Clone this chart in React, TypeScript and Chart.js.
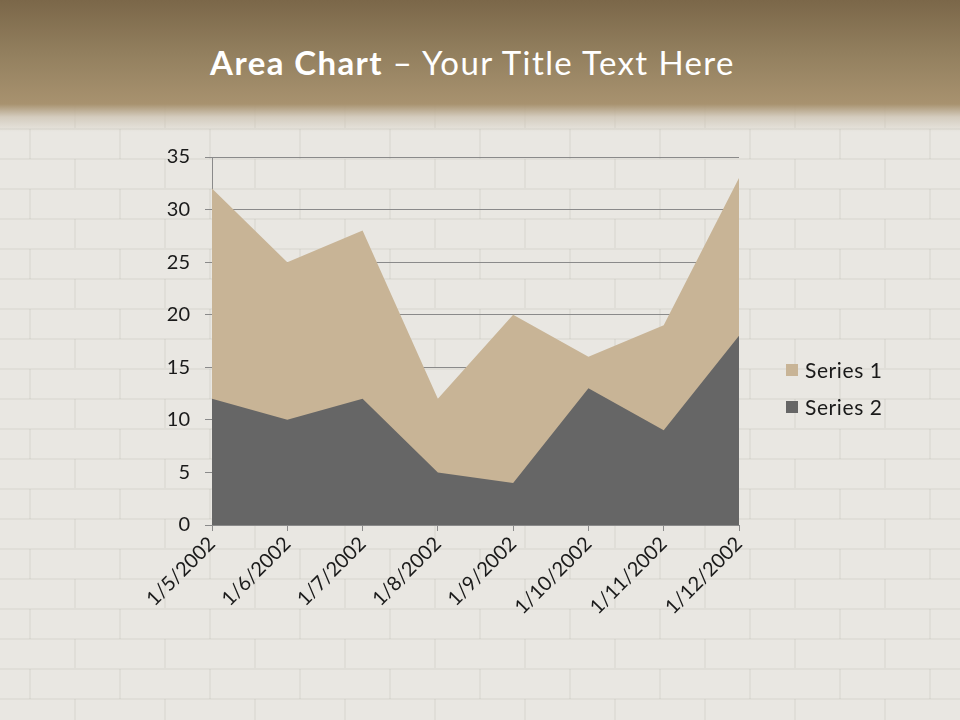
import React, { useEffect, useRef } from "react";
import { Chart, registerables } from "chart.js";

Chart.register(...registerables);

const categories = ["1/5/2002", "1/6/2002", "1/7/2002", "1/8/2002", "1/9/2002", "1/10/2002", "1/11/2002", "1/12/2002"];
const series1 = [32, 25, 28, 12, 20, 16, 19, 33];
const series2 = [12, 10, 12, 5, 4, 13, 9, 18];
const seriesNames = ["Series 1", "Series 2"];
const seriesColors = ["#c8b496", "#666666"];
const yTicks = [0, 5, 10, 15, 20, 25, 30, 35];

const FONT = "Lato, 'Liberation Sans', sans-serif";

const brickSvg =
  "data:image/svg+xml;utf8," +
  encodeURIComponent(
    "<svg xmlns='http://www.w3.org/2000/svg' width='180' height='60'>" +
      "<g stroke='rgba(120,115,105,0.08)' stroke-width='2' fill='none'>" +
      "<line x1='0' y1='1' x2='180' y2='1'/>" +
      "<line x1='0' y1='31' x2='180' y2='31'/>" +
      "<line x1='30' y1='1' x2='30' y2='31'/>" +
      "<line x1='120' y1='1' x2='120' y2='31'/>" +
      "<line x1='75' y1='31' x2='75' y2='60'/>" +
      "<line x1='165' y1='31' x2='165' y2='60'/>" +
      "</g></svg>"
  );

export default function App() {
  const ref = useRef<HTMLCanvasElement | null>(null);

  useEffect(() => {
    if (!ref.current) return;
    const chart = new Chart(ref.current, {
      type: "line",
      data: {
        labels: categories,
        datasets: [
          {
            label: seriesNames[0],
            data: series1,
            fill: "origin",
            backgroundColor: seriesColors[0],
            borderWidth: 0,
            pointRadius: 0,
            tension: 0,
            order: 2,
          },
          {
            label: seriesNames[1],
            data: series2,
            fill: "origin",
            backgroundColor: seriesColors[1],
            borderWidth: 0,
            pointRadius: 0,
            tension: 0,
            order: 1,
          },
        ],
      },
      options: {
        animation: false,
        responsive: false,
        maintainAspectRatio: false,
        layout: { padding: { left: 140, right: 221, top: 157, bottom: 80 } },
        plugins: { legend: { display: false }, tooltip: { enabled: false } },
        scales: {
          x: {
            offset: false,
            grid: {
              offset: false,
              drawOnChartArea: false,
              drawTicks: true,
              tickLength: 6,
              color: "#8a8a8a",
            },
            border: { display: true, color: "#8a8a8a" },
            ticks: {
              autoSkip: false,
              maxRotation: 45,
              minRotation: 45,
              padding: 1,
              color: "#1a1a1a",
              font: { family: FONT, size: 20 },
            },
            afterFit: (s: any) => {
              s.height = 115;
            },
          },
          y: {
            min: 0,
            max: 35,
            afterBuildTicks: (s: any) => {
              s.ticks = yTicks.map((v) => ({ value: v }));
            },
            grid: {
              drawOnChartArea: true,
              drawTicks: true,
              tickLength: 7,
              color: "#8a8a8a",
            },
            border: { display: true, color: "#8a8a8a" },
            ticks: {
              padding: 15,
              color: "#1a1a1a",
              font: { family: FONT, size: 20 },
            },
            afterFit: (s: any) => {
              s.width = 72;
            },
          },
        },
      },
    });
    return () => chart.destroy();
  }, []);

  return (
    <div
      style={{
        position: "absolute",
        left: 0,
        top: 0,
        width: 960,
        height: 720,
        overflow: "hidden",
        background: "#e9e7e2",
        fontFamily: FONT,
      }}
    >
      <div
        style={{
          position: "absolute",
          left: 0,
          top: 0,
          width: 960,
          height: 720,
          backgroundImage: `url("${brickSvg}")`,
          backgroundPosition: "0px 8px",
        }}
      />
      <div
        style={{
          position: "absolute",
          left: 0,
          top: 0,
          width: 960,
          height: 132,
          background:
            "linear-gradient(180deg, #7b6749 0px, #93805f 55px, #a8926f 104px, rgba(205,195,178,0.75) 117px, rgba(233,231,226,0) 132px)",
        }}
      />
      <div
        style={{
          position: "absolute",
          left: 0,
          top: 39,
          width: 945,
          textAlign: "center",
          color: "#ffffff",
          fontSize: 33,
          letterSpacing: "1.4px",
          lineHeight: "46px",
          fontFamily: FONT,
        }}
      >
        <span style={{ fontWeight: 700 }}>Area Chart</span>
        <span> – Your Title Text Here</span>
      </div>
      <canvas ref={ref} width={960} height={720} style={{ position: "absolute", left: 0, top: 0, width: 960, height: 720 }} />
      <div style={{ position: "absolute", left: 786, top: 351, color: "#1a1a1a", fontSize: 21, letterSpacing: "0.6px", fontFamily: FONT }}>
        {seriesNames.map((n, i) => (
          <div key={n} style={{ display: "flex", alignItems: "center", height: 37 }}>
            <span style={{ display: "inline-block", width: 12, height: 12, background: seriesColors[i], marginRight: 7 }} />
            <span>{n}</span>
          </div>
        ))}
      </div>
    </div>
  );
}
